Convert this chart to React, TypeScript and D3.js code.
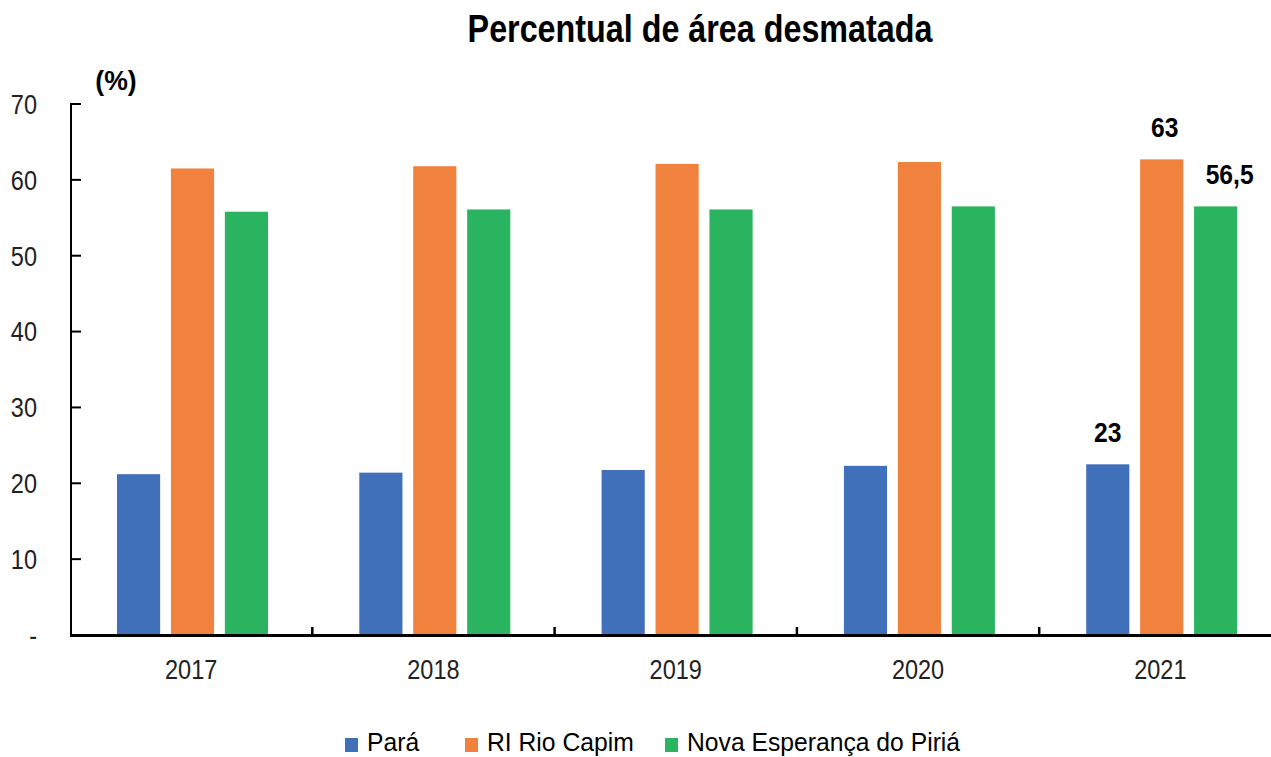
import React from "react";
import * as d3 from "d3";

const years = ["2017", "2018", "2019", "2020", "2021"];
const seriesNames = ["Pará", "RI Rio Capim", "Nova Esperança do Piriá"];
const para = [21.2, 21.4, 21.75, 22.3, 22.5];
const rioCapim = [61.5, 61.8, 62.1, 62.35, 62.7];
const novaEsperanca = [55.8, 56.1, 56.1, 56.5, 56.5];
const yTicks = [0, 10, 20, 30, 40, 50, 60, 70];
const annotations = [
  { series: 0, year: "2021", text: "23" },
  { series: 1, year: "2021", text: "63" },
  { series: 2, year: "2021", text: "56,5" },
];
const colors = ["#3F70B9", "#F0823E", "#2BB45F"];

const W = 1271;
const H = 757;
const FONT = "'Liberation Sans', Arial, sans-serif";

type NTProps = {
  x: number;
  y: number;
  sx?: number;
  size: number;
  anchor?: "start" | "middle" | "end";
  bold?: boolean;
  fill?: string;
  dy?: string;
  children: React.ReactNode;
};

function NText({ x, y, sx = 0.84, size, anchor = "start", bold = false, fill = "#000", dy, children }: NTProps) {
  return (
    <text
      transform={`translate(${x},${y}) scale(${sx},1)`}
      textAnchor={anchor}
      fontSize={size}
      fontWeight={bold ? "bold" : "normal"}
      fill={fill}
      dy={dy}
    >
      {children}
    </text>
  );
}

export default function App() {
  const allSeries = [para, rioCapim, novaEsperanca];
  const x0 = d3.scaleBand<string>().domain(years).range([70, 70 + 5 * 242.3]).padding(0);
  const x1 = d3.scaleBand<number>().domain([0, 1, 2]).range([47, 198]).paddingInner(0.2);
  const y = d3.scaleLinear().domain([0, 70]).range([635, 104]);
  const annotDx = [0, 3, 14];

  return (
    <svg width={W} height={H} style={{ position: "absolute", left: 0, top: 0, background: "#fff" }} fontFamily={FONT}>
      <NText x={700} y={42} size={38} sx={0.85} anchor="middle" bold>
        Percentual de área desmatada
      </NText>
      <NText x={116} y={90} size={28} sx={0.95} anchor="middle" bold>
        (%)
      </NText>
      {/* bars */}
      {allSeries.map((vals, si) =>
        vals.map((v, i) => (
          <rect
            key={`${si}-${i}`}
            x={(x0(years[i]) as number) + (x1(si) as number)}
            y={y(v)}
            width={x1.bandwidth()}
            height={y(0) - y(v)}
            fill={colors[si]}
          />
        ))
      )}
      {/* y axis */}
      <line x1={71} x2={71} y1={103} y2={636} stroke="#000" strokeWidth={2} />
      {yTicks.map((t) => (
        <g key={t}>
          {t > 0 && <line x1={71} x2={81} y1={y(t)} y2={y(t)} stroke="#000" strokeWidth={2} />}
          <NText x={37} y={y(t)} dy="0.35em" anchor="end" size={28} fill="#222">
            {t === 0 ? "-" : String(t)}
          </NText>
        </g>
      ))}
      {/* x axis */}
      <line x1={70} x2={W} y1={635.5} y2={635.5} stroke="#000" strokeWidth={3} />
      {years.map((yr, i) =>
        i > 0 ? (
          <line key={`t${yr}`} x1={x0(yr)} x2={x0(yr)} y1={627} y2={636} stroke="#000" strokeWidth={2.5} />
        ) : null
      )}
      {years.map((yr) => (
        <NText key={yr} x={(x0(yr) as number) + x0.bandwidth() / 2} y={679} anchor="middle" size={28} fill="#222">
          {yr}
        </NText>
      ))}
      {/* annotations */}
      {annotations.map((a, k) => {
        const i = years.indexOf(a.year);
        const v = allSeries[a.series][i];
        const cx = (x0(a.year) as number) + (x1(a.series) as number) + x1.bandwidth() / 2 + annotDx[k];
        return (
          <NText key={k} x={cx} y={y(v) - 22} anchor="middle" size={28} sx={0.88} bold>
            {a.text}
          </NText>
        );
      })}
      {/* legend */}
      {seriesNames.map((name, si) => {
        const lx = [345, 465, 665][si];
        return (
          <g key={name}>
            <rect x={lx} y={738} width={13} height={14} fill={colors[si]} />
            <NText x={lx + 22} y={751} size={26} sx={0.95}>
              {name}
            </NText>
          </g>
        );
      })}
    </svg>
  );
}
